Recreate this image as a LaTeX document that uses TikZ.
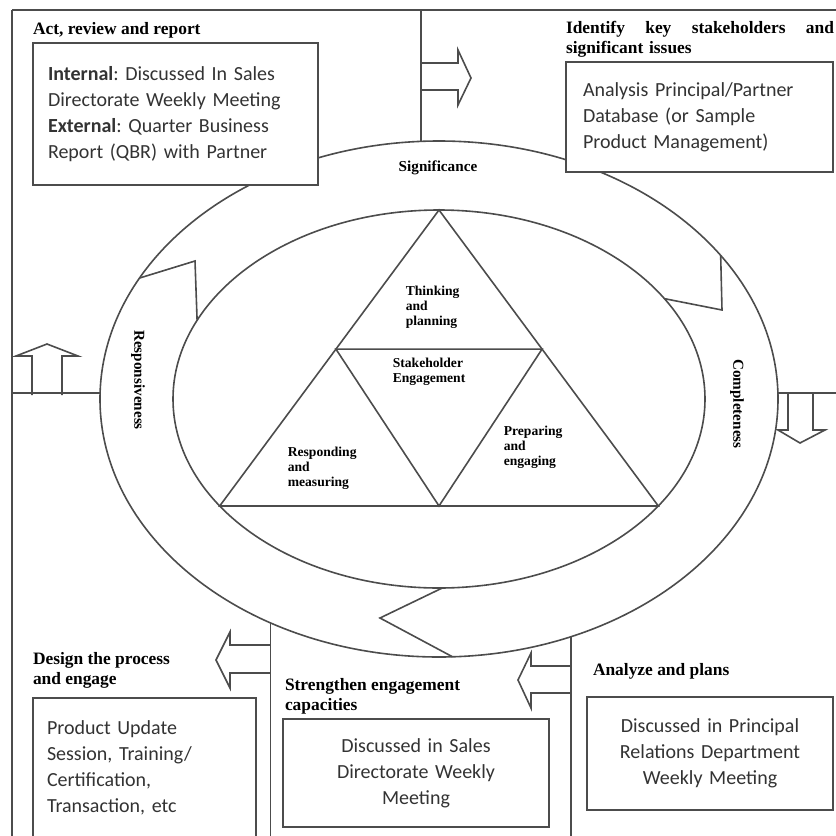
\documentclass[tikz,border=0pt]{standalone}
\usepackage{fontspec}
\setmainfont{Liberation Serif}
\newfontfamily\boxfont{Carlito}
\usetikzlibrary{positioning,shapes.geometric,calc}
\frenchspacing

\begin{document}
\begin{tikzpicture}[x=0.5pt,y=-0.5pt,color=black!70,line width=0.8pt]
  \tikzstyle{box}=[draw=black!70,fill=white,inner ysep=0pt,inner xsep=7.5pt,align=left,
                   text=black!80,font=\boxfont\fontsize{10}{13}\selectfont]
  \tikzstyle{head}=[inner sep=0pt,align=left,text=black,
                    font=\bfseries\fontsize{8.7}{10}\selectfont]
  \tikzstyle{ring}=[ellipse,draw=black!70,inner sep=0pt,outer sep=0pt]
  \tikzstyle{part}=[inner sep=0pt,align=left,text=black,
                    font=\bfseries\fontsize{6.8}{7.6}\selectfont]
  \tikzstyle{ringtext}=[inner sep=0pt,text=black,font=\bfseries\fontsize{7.6}{9}\selectfont]
  \tikzstyle{blockarrow}=[draw=black!70,line join=miter]

  \clip (0,0) rectangle (836,836);

  % the two ellipses of the cycle
  \node[ring,minimum width=339pt,minimum height=258pt] (O) at (439,399) {};
  \node[ring,minimum width=266pt,minimum height=189pt] (I) at (439,399) {};

  % frame and dividers
  \coordinate (NW) at (12,10);
  \draw (NW) -- (836,10);
  \draw (NW) -- (12,836);
  \draw (O.94) -- (O.94 |- NW);
  \draw (O.179) -- (O.179 -| NW);
  \draw (O.1) -- ++(60,0);
  \draw (O.233) -- ++(0,220);
  \draw (O.299) -- ++(0,220);

  % arrow heads inside the ring
  \draw (O.158) -- (195,261) -- (I.162);
  \draw (I.24) -- (722,310) -- (O.27);
  \draw (I.271) -- (380,618) -- (O.273);

  % triangle
  \coordinate (T) at (I.north);
  \coordinate (L) at (I.206);
  \coordinate (R) at (I.334);
  \coordinate (ML) at ($(T)!0.47!(L)$);
  \coordinate (MR) at ($(T)!0.47!(R)$);
  \coordinate (MB) at ($(L)!0.5!(R)$);
  \draw (T) -- (L) -- (R) -- cycle;
  \draw (ML) -- (MR) -- (MB) -- cycle;

  \node[part,anchor=west] (think) at (405,307) {Thinking\\and\\planning};
  \node[part,anchor=west] (stake) at (392,372) {Stakeholder\\Engagement};
  \node[part,anchor=west] (resp)  at (287,468) {Responding\\and\\measuring};
  \node[part,anchor=west] (prep)  at (503,447) {Preparing\\and\\engaging};

  \node[ringtext]           (sig) at (438,168) {Significance};
  \node[ringtext,rotate=-90] (res) at (138,380) {Responsiveness};
  \node[ringtext,rotate=-90] (com) at (737,404) {Completeness};

  % boxes
  \node[box,text width=127.5pt,minimum height=71pt] (A) at (175.5,114)
       {\textbf{Internal}: Discussed In Sales\\Directorate Weekly Meeting\\
        \textbf{External}: Quarter Business\\Report (QBR) with Partner};
  \node[head] (a) [above right=1.5pt and 0pt of A.north west] {Act, review and report};

  \node[box,inner xsep=8.5pt,text width=116.5pt,minimum height=55pt] (B) at (699.5,117)
       {Analysis Principal/Partner\\Database (or Sample\\Product Management)};
  \node[head,text width=134pt] (b) [above right=1.5pt and 0pt of B.north west]
       {\hbox to 134pt{Identify\hfill key\hfill stakeholders\hfill and}\\significant issues};

  \node[box,inner xsep=7pt,text width=97.5pt,minimum height=70pt] (C) at (144.5,768)
       {Product Update\\Session, Training/\\Certification,\\Transaction, etc};
  \node[head] (c) [above right=4pt and 0pt of C.north west] {Design the process\\and engage};

  \node[box,align=center,text width=118pt,minimum height=54pt] (D) at (416,773)
       {Discussed in Sales\\Directorate Weekly\\Meeting};
  \node[head] (d) [above right=1.5pt and 1pt of D.north west] {Strengthen engagement\\capacities};

  \node[box,align=center,text width=108pt,minimum height=56.5pt] (E) at (710,753.5)
       {Discussed in Principal\\Relations Department\\Weekly Meeting};
  \node[head] (e) [above right=8pt and 3pt of E.north west] {Analyze and plans};

  % block arrows on the dividers
  \draw[blockarrow] (420,63) -- (458,63) -- (458,50) -- (471,78) -- (458,105) -- (458,90) -- (420,90);
  \draw[blockarrow] (32,395) -- (32,356) -- (16,356) -- (47,344) -- (78,356) -- (62,356) -- (62,395);
  \draw[blockarrow] (788,394) -- (788,430) -- (778,430) -- (800,443) -- (825,430) -- (813,430) -- (813,394);
  \draw[blockarrow] (270,645) -- (230,645) -- (230,632) -- (216,660) -- (230,688) -- (230,673) -- (270,673);
  \draw[blockarrow] (570,666) -- (531,666) -- (531,653) -- (518,680) -- (531,708) -- (531,693) -- (570,693);
\end{tikzpicture}
\end{document}
